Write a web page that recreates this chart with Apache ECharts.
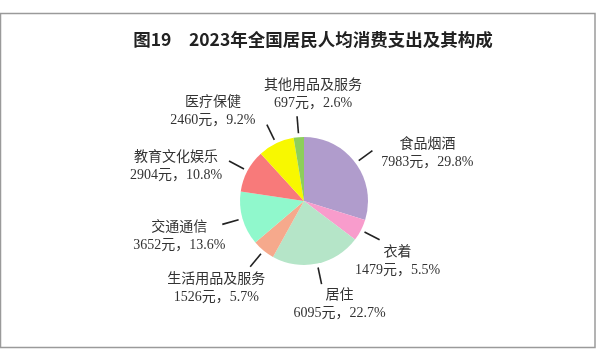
<!DOCTYPE html>
<html>
<head>
<meta charset="utf-8">
<script src="https://cdn.jsdelivr.net/npm/echarts@6/dist/echarts.min.js"></script>
<style>
html,body{margin:0;padding:0;background:#fff;}
#chart{width:599px;height:355px;}
</style>
</head>
<body>
<div id="chart"></div>
<script>
// ---- data ----
var titleText = '图19\u30002023年全国居民人均消费支出及其构成';
var categories = ['食品烟酒', '衣着', '居住', '生活用品及服务', '交通通信', '教育文化娱乐', '医疗保健', '其他用品及服务'];
var values = [7983, 1479, 6095, 1526, 3652, 2904, 2460, 697];
var shares = [29.8, 5.5, 22.7, 5.7, 13.6, 10.8, 9.2, 2.6];

// ---- styling ----
var colors = ['#b09ccc', '#f89ccc', '#b5e5c8', '#f6a98c', '#90f8cc', '#f87a7a', '#f8f800', '#8dcf5a'];
// label offset from the end of its leader line (dx, dy)
var labelNudge = [[55, 3], [18, 21], [18, 20], [-34, 22], [-43, 12], [-53, 5], [-54, -13], [16, -22]];
var lineGap = 4;

var chart = echarts.init(document.getElementById('chart'), null, {renderer: 'canvas'});

var pieData = categories.map(function (name, i) {
  return {name: name, value: values[i], itemStyle: {color: colors[i]}};
});

chart.setOption({
  animation: false,
  backgroundColor: '#ffffff',
  title: {
    text: titleText,
    left: 308,
    textAlign: 'center',
    top: 26,
    textStyle: {
      fontFamily: "'Noto Sans CJK SC', sans-serif",
      fontSize: 17.5,
      fontWeight: 'bold',
      color: '#222222'
    }
  },
  graphic: [{
    type: 'rect',
    shape: {x: 0.5, y: 13.5, width: 594.5, height: 334},
    style: {fill: 'none', stroke: '#9a9a9a', lineWidth: 1.5},
    silent: true
  }],
  series: [{
    type: 'pie',
    center: [304, 201],
    radius: 64,
    startAngle: 90,
    clockwise: true,
    avoidLabelOverlap: false,
    itemStyle: {borderWidth: 0},
    emphasis: {disabled: true},
    label: {
      show: true,
      position: 'outside',
      alignTo: 'none',
      fontFamily: "'Liberation Serif', 'Noto Sans CJK SC', serif",
      fontSize: 14,
      lineHeight: 18,
      color: '#333333',
      align: 'center',
      formatter: function (p) {
        return p.name + '\n' + p.value + '元，' + shares[p.dataIndex].toFixed(1) + '%';
      }
    },
    labelLine: {
      show: true,
      length: 21,
      length2: 0,
      smooth: false,
      lineStyle: {color: '#222222', width: 1.6}
    },
    labelLayout: function (params) {
      var i = params.dataIndex;
      var pts = params.labelLinePoints;
      var n = labelNudge[i];
      if (!pts) return {};
      var p0 = pts[0], p1 = pts[1];
      var dx = p1[0] - p0[0], dy = p1[1] - p0[1];
      var len = Math.sqrt(dx * dx + dy * dy) || 1;
      var start = [p0[0] + dx / len * lineGap, p0[1] + dy / len * lineGap];
      return {
        x: p1[0] + n[0],
        y: p1[1] + n[1],
        align: 'center',
        verticalAlign: 'middle',
        labelLinePoints: [start, p1, p1]
      };
    },
    data: pieData
  }]
});
</script>
</body>
</html>
